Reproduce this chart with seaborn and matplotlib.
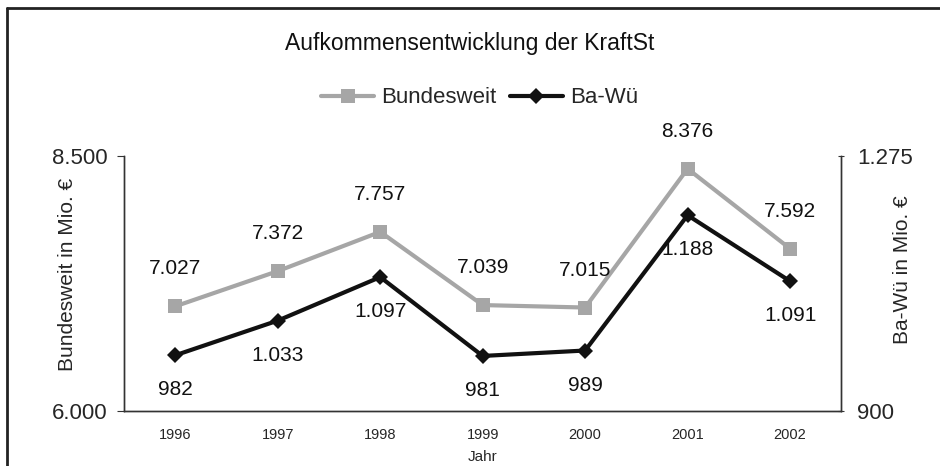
import numpy as np
import pandas as pd
import seaborn as sns
import matplotlib.pyplot as plt
from matplotlib.lines import Line2D

sns.set_style("white")
plt.rcParams['font.family'] = ['Liberation Sans', 'DejaVu Sans']

# data
years = ["1996", "1997", "1998", "1999", "2000", "2001", "2002"]
bundesweit = [7027, 7372, 7757, 7039, 7015, 8376, 7592]
bawue = [982, 1033, 1097, 981, 989, 1188, 1091]


def de(v):
    # german thousands separator
    return f"{v:,}".replace(",", ".")


df = pd.DataFrame({"idx": range(len(years)), "Bundesweit": bundesweit, "Ba-Wü": bawue})

grey = "#a6a6a6"
fig = plt.figure(figsize=(9.4, 4.66), dpi=100)
ax = fig.add_axes([0.132, 0.118, 0.763, 0.547])
ax2 = ax.twinx()

sns.lineplot(data=df, x="idx", y="Bundesweit", ax=ax, color=grey, lw=3,
             marker="s", markersize=10, markeredgewidth=0)
sns.lineplot(data=df, x="idx", y="Ba-Wü", ax=ax2, color="#111111", lw=3,
             marker="D", markersize=8, markeredgewidth=0)

for i, v in enumerate(bundesweit):
    ax.annotate(de(v), (i, v), xytext=(0, 27), textcoords="offset points",
                ha="center", va="center", fontsize=15, color="#111111")
for i, v in enumerate(bawue):
    ax2.annotate(de(v), (i, v), xytext=(0, -25), textcoords="offset points",
                 ha="center", va="center", fontsize=15, color="#111111")

ax.set_xlim(-0.5, len(years) - 0.5)
ax.set_ylim(6000, 8500)
ax2.set_ylim(900, 1275)
ax.set_yticks([6000, 8500])
ax.set_yticklabels(["6.000", "8.500"], fontsize=16)
ax2.set_yticks([900, 1275])
ax2.set_yticklabels(["900", "1.275"], fontsize=16)
ax.set_xticks(range(len(years)))
ax.set_xticklabels(years, fontsize=10.5)
ax.set_xticks(np.arange(-0.5, len(years)), minor=True)
ax.tick_params(axis="x", which="major", length=0, pad=12)
ax.tick_params(axis="x", which="minor", length=5, direction="out", color="#333333")
ax.tick_params(axis="y", length=5, direction="out", color="#333333", pad=7)
ax2.tick_params(axis="y", length=5, direction="inout", color="#333333", pad=9)

ax.set_xlabel("Jahr", fontsize=11, labelpad=6)
ax.set_ylabel("Bundesweit in Mio. €", fontsize=15)
ax2.set_ylabel("Ba-Wü in Mio. €", fontsize=15)
# labels sit closer to the axis than the tick labels, as in the original
ax.yaxis.set_label_coords(-0.066, 0.535)
ax2.yaxis.set_label_coords(1.072, 0.555)

for a in (ax, ax2):
    a.spines["top"].set_visible(False)
    for s in ("left", "right", "bottom"):
        a.spines[s].set_color("#333333")
        a.spines[s].set_linewidth(1)

fig.text(0.5, 0.906, "Aufkommensentwicklung der KraftSt", ha="center", va="center",
         fontsize=16.5, color="#111111")

handles = [Line2D([], [], color=grey, lw=3, marker="s", markersize=10, markeredgewidth=0),
           Line2D([], [], color="#111111", lw=3, marker="D", markersize=8, markeredgewidth=0)]
fig.legend(handles, ["Bundesweit", "Ba-Wü"], loc="center", bbox_to_anchor=(0.51, 0.79),
           ncol=2, frameon=False, fontsize=16, handlelength=2.4, columnspacing=0.6,
           handletextpad=0.3)

# outer frame (top and left only, as in the scan)
fig.add_artist(Line2D([0.007, 1.0], [0.983, 0.983], transform=fig.transFigure,
                      color="#222222", lw=2))
fig.add_artist(Line2D([0.007, 0.007], [0.0, 0.983], transform=fig.transFigure,
                      color="#222222", lw=2))

fig.savefig("out.png", dpi=100)
